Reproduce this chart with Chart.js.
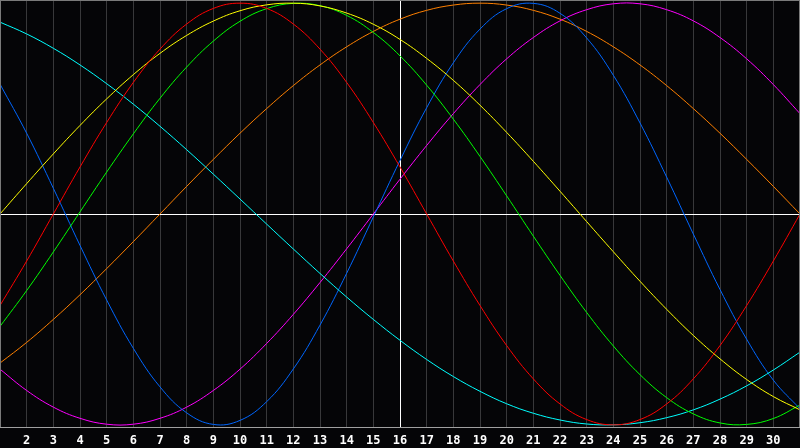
<!DOCTYPE html>
<html lang="en">
<head>
    <meta charset="UTF-8">
    <title>Waves</title>
    <style>
        body {
            margin: 0;
            background: #050507;
        }
        #waves {
            display: block;
        }
    </style>
    <script src="https://cdn.jsdelivr.net/npm/chart.js"></script>
</head>
<body>
    <canvas id="waves" width="800" height="448"></canvas>

    <script>
        // x positions 1..31, labels shown for 2..30
        const steps = [1, 2, 3, 4, 5, 6, 7, 8, 9, 10, 11, 12, 13, 14, 15, 16,
                       17, 18, 19, 20, 21, 22, 23, 24, 25, 26, 27, 28, 29, 30, 31];
        const tickLabels = [2, 3, 4, 5, 6, 7, 8, 9, 10, 11, 12, 13, 14, 15, 16,
                            17, 18, 19, 20, 21, 22, 23, 24, 25, 26, 27, 28, 29, 30];

        // values, one per step
        const redWave = [-0.434, -0.223, 0, 0.223, 0.434, 0.624, 0.782, 0.901, 0.975, 1,
                         0.975, 0.901, 0.782, 0.624, 0.434, 0.223, 0, -0.223, -0.434, -0.624,
                         -0.782, -0.901, -0.975, -1, -0.975, -0.901, -0.782, -0.624, -0.434, -0.223, 0];
        const yellowWave = [0, 0.144, 0.285, 0.420, 0.546, 0.661, 0.762, 0.847, 0.915, 0.964,
                            0.992, 1.0, 0.987, 0.953, 0.900, 0.828, 0.738, 0.634, 0.516, 0.387,
                            0.250, 0.108, -0.036, -0.179, -0.319, -0.452, -0.576, -0.687, -0.785, -0.866, -0.929];
        const greenWave = [-0.533, -0.363, -0.180, 0.010, 0.199, 0.380, 0.549, 0.697, 0.820, 0.914,
                           0.974, 0.999, 0.988, 0.942, 0.861, 0.750, 0.611, 0.450, 0.273, 0.086,
                           -0.105, -0.291, -0.467, -0.626, -0.762, -0.871, -0.948, -0.991, -0.998, -0.970, -0.906];
        const cyanWave = [0.910, 0.854, 0.786, 0.707, 0.618, 0.521, 0.416, 0.305, 0.189, 0.071,
                          -0.048, -0.166, -0.282, -0.394, -0.500, -0.599, -0.690, -0.771, -0.841, -0.900,
                          -0.945, -0.977, -0.996, -1.0, -0.990, -0.966, -0.929, -0.878, -0.815, -0.740, -0.655];
        const blueWave = [0.616, 0.383, 0.122, -0.149, -0.408, -0.637, -0.820, -0.943, -0.998, -0.979,
                          -0.890, -0.735, -0.527, -0.281, -0.014, 0.254, 0.504, 0.717, 0.877, 0.974,
                          0.999, 0.952, 0.835, 0.658, 0.432, 0.175, -0.095, -0.358, -0.594, -0.788, -0.924];
        const magentaWave = [-0.736, -0.837, -0.916, -0.969, -0.997, -0.997, -0.969, -0.916, -0.837, -0.736,
                             -0.614, -0.476, -0.325, -0.165, 0, 0.165, 0.325, 0.476, 0.614, 0.736,
                             0.837, 0.916, 0.969, 0.997, 0.997, 0.969, 0.916, 0.837, 0.736, 0.614, 0.476];
        const orangeWave = [-0.707, -0.609, -0.500, -0.383, -0.259, -0.131, 0, 0.131, 0.259, 0.383,
                            0.500, 0.609, 0.707, 0.793, 0.866, 0.924, 0.966, 0.991, 1, 0.991,
                            0.966, 0.924, 0.866, 0.793, 0.707, 0.609, 0.500, 0.383, 0.259, 0.131, 0];

        function wave(values, colour) {
            return {
                data: steps.map((x, i) => ({ x: x, y: values[i] })),
                borderColor: colour,
                borderWidth: 1,
                pointRadius: 0,
                tension: 0.4,
                fill: false
            };
        }

        // background and frame
        const framePlugin = {
            id: 'frame',
            beforeDraw(chart) {
                const ctx = chart.ctx;
                ctx.save();
                ctx.fillStyle = '#050507';
                ctx.fillRect(0, 0, chart.width, chart.height);
                ctx.restore();
            },
            afterDraw(chart) {
                const ctx = chart.ctx;
                const a = chart.chartArea;
                ctx.save();
                ctx.strokeStyle = '#7a7a7a';
                ctx.lineWidth = 1;
                ctx.strokeRect(a.left + 0.5, a.top + 0.5, a.right - a.left - 1, a.bottom - a.top - 1);
                ctx.strokeStyle = '#a0a0a0';
                ctx.beginPath();
                ctx.moveTo(a.left, a.bottom - 0.5);
                ctx.lineTo(a.right, a.bottom - 0.5);
                ctx.stroke();
                ctx.restore();
            }
        };

        const ctx = document.getElementById('waves').getContext('2d');
        new Chart(ctx, {
            type: 'line',
            data: {
                datasets: [
                    wave(redWave, '#ff0000'),
                    wave(yellowWave, '#ffff00'),
                    wave(greenWave, '#00ff00'),
                    wave(cyanWave, '#00ffff'),
                    wave(blueWave, '#0066ff'),
                    wave(magentaWave, '#ff00ff'),
                    wave(orangeWave, '#ff8000')
                ]
            },
            options: {
                responsive: false,
                animation: false,
                devicePixelRatio: 1,
                layout: { padding: 0 },
                plugins: {
                    legend: { display: false },
                    tooltip: { enabled: false }
                },
                scales: {
                    x: {
                        type: 'linear',
                        min: 1,
                        max: 31,
                        afterBuildTicks(scale) {
                            scale.ticks = tickLabels.map(v => ({ value: v }));
                        },
                        afterFit(scale) {
                            scale.height = 20;
                        },
                        ticks: {
                            color: '#ffffff',
                            padding: 6,
                            maxRotation: 0,
                            autoSkip: false,
                            font: { family: 'DejaVu Sans Mono', size: 12, weight: 'bold' }
                        },
                        grid: {
                            drawTicks: false,
                            color: c => (c.tick && c.tick.value === 16) ? '#ffffff' : '#38383a',
                            lineWidth: 1
                        },
                        border: { display: false }
                    },
                    y: {
                        min: -1.015,
                        max: 1.015,
                        afterBuildTicks(scale) {
                            scale.ticks = [{ value: 0 }];
                        },
                        afterFit(scale) {
                            scale.width = 0;
                        },
                        ticks: { display: false },
                        grid: {
                            drawTicks: false,
                            color: '#ffffff',
                            lineWidth: 1
                        },
                        border: { display: false }
                    }
                }
            },
            plugins: [framePlugin]
        });
    </script>
</body>
</html>
